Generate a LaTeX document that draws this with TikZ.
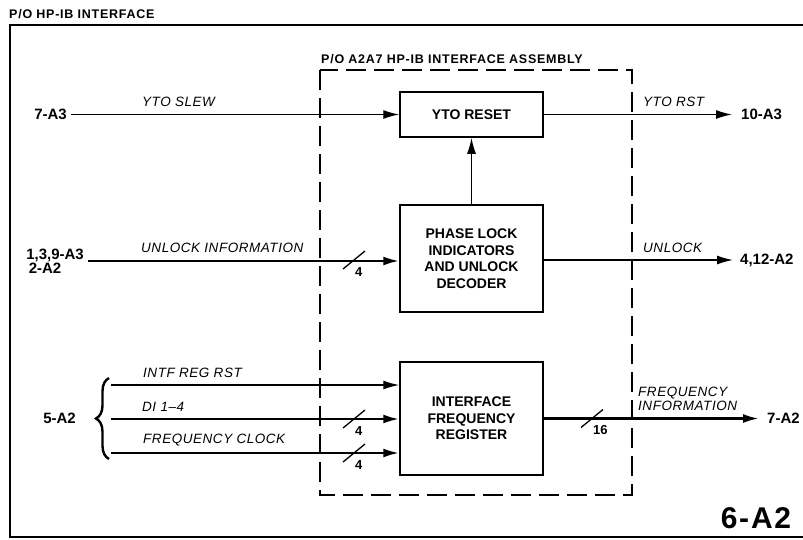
\documentclass[tikz,border=0pt]{standalone}
\usepackage{fontspec}
\setmainfont{Liberation Sans}
\newfontfamily\spacedfont{Liberation Sans}[LetterSpace=6]
\newfontfamily\sigfont{Liberation Sans}[LetterSpace=4]
\usetikzlibrary{arrows.meta,decorations.pathreplacing}

\tikzset{
    block/.style={
        draw,
        line width=1.5pt,
        minimum width=143pt,
        inner sep=2pt,
        align=center,
        font=\fontsize{14}{16.5}\selectfont\bfseries
    },
    port/.style={
        inner sep=0pt,
        align=left,
        font=\fontsize{15}{14}\selectfont\bfseries
    },
    sig/.style={
        inner sep=0pt,
        align=left,
        font=\fontsize{13.5}{14}\sigfont\itshape
    },
    title/.style={
        inner sep=0pt,
        font=\fontsize{12.5}{12}\spacedfont\bfseries
    },
    wire/.style={
        -{Latex[length=16pt,width=9pt]},
        line width=1.4pt
    },
    bus/.style={
        wire,
        line width=2.6pt
    },
    pics/buswidth/.style={code={
        \draw[line width=1.3pt] (-11,9) -- (11,-9);
        \node[anchor=north west, inner sep=0pt,
              font=\fontsize{13}{13}\selectfont\bfseries] at (1,7) {#1};
    }}
}

\begin{document}
\begin{tikzpicture}[x=1pt, y=-1pt]
\useasboundingbox (0,0) rectangle (803,539);

    % Rahmen und Baugruppe
    \draw[line width=1.9pt] (803,25) -- (10,25) -- (10,537) -- (803,537);
    \node[title, anchor=south west] (frametitle) at (9,19) {P/O HP-IB INTERFACE};
    \draw[line width=1.9pt, dash pattern=on 20pt off 8pt] (320,70) rectangle (632,495);
    \node[title, anchor=south west] (asmtitle) at (321,64) {P/O A2A7 HP-IB INTERFACE ASSEMBLY};

    % Funktionsbloecke
    \path
        node[block, minimum height=45pt]  at (471.5,114.5) (ytoreset)  {YTO RESET}
        node[block, minimum height=107pt] at (471.5,258.5) (phaselock) {PHASE LOCK\\INDICATORS\\AND UNLOCK\\DECODER}
        node[block, minimum height=113pt] at (471.5,418.5) (freqreg)   {INTERFACE\\FREQUENCY\\REGISTER};

    % Anschluesse
    \path
        node[port, anchor=east] at (67,114.5) (p7a3)   {7-A3}
        node[port, anchor=east] at (84,261)   (p139a3) {1,3,9-A3\\\,2-A2}
        node[port, anchor=east] at (76,418)   (p5a2)   {5-A2}
        node[port, anchor=west] at (741,114.5) (p10a3) {10-A3}
        node[port, anchor=west] at (740,260)  (p412a2) {4,12-A2}
        node[port, anchor=west] at (767,418.5) (p7a2)  {7-A2};

    \coordinate (rst)  at (111,385);
    \coordinate (di)   at (111,419);
    \coordinate (fclk) at (111,453);
    \draw[line width=2.4pt, decorate, decoration={brace, amplitude=13pt}]
        (109,459) -- (109,378);

    % Eingaenge
    \draw[wire] (p7a3.east) ++(4,0) coordinate (slew) -- (slew -| ytoreset.west);
    \draw[bus]  (p139a3.east) ++(4,0) coordinate (ulk) -- (ulk -| phaselock.west);
    \draw[wire] (rst)  -- (rst -| freqreg.west);
    \draw[bus]  (di)   -- (di -| freqreg.west);
    \draw[bus]  (fclk) -- (fclk -| freqreg.west);

    % Ausgaenge
    \draw[wire, shorten >=9pt] (ytoreset.east) -- (ytoreset.east -| p10a3.west);
    \draw[wire, shorten >=7pt] (phaselock.east |- p412a2) -- (p412a2.west);
    \draw[bus, shorten >=8pt]  (freqreg.east |- p7a2) -- (p7a2.west);
    \draw[wire] (phaselock) -- (ytoreset);

    % Busbreiten
    \pic at (354,260) {buswidth=4};
    \pic at (354,419) {buswidth=4};
    \pic at (354,453) {buswidth=4};
    \pic at (592,418.5) {buswidth=16};

    % Signalnamen
    \path
        node[sig, anchor=south west] at (142,107) (lslew)   {YTO SLEW}
        node[sig, anchor=south west] at (141,253) (lunlock) {UNLOCK INFORMATION}
        node[sig, anchor=south west] at (143,378) (lrst)    {INTF REG RST}
        node[sig, anchor=south west] at (142,412) (ldi)     {DI 1\textendash4}
        node[sig, anchor=south west] at (143,446) (lfclk)   {FREQUENCY CLOCK}
        node[sig, anchor=south west] at (643,107) (lytorst) {YTO RST}
        node[sig, anchor=south west] at (643,253) (lulk)    {UNLOCK}
        node[sig, anchor=south west] at (638,411) (lfinfo)  {FREQUENCY\\INFORMATION};

    \node[inner sep=0pt, font=\fontsize{30}{30}\spacedfont\bfseries] (figno) at (756,518) {6-A2};
\end{tikzpicture}
\end{document}
